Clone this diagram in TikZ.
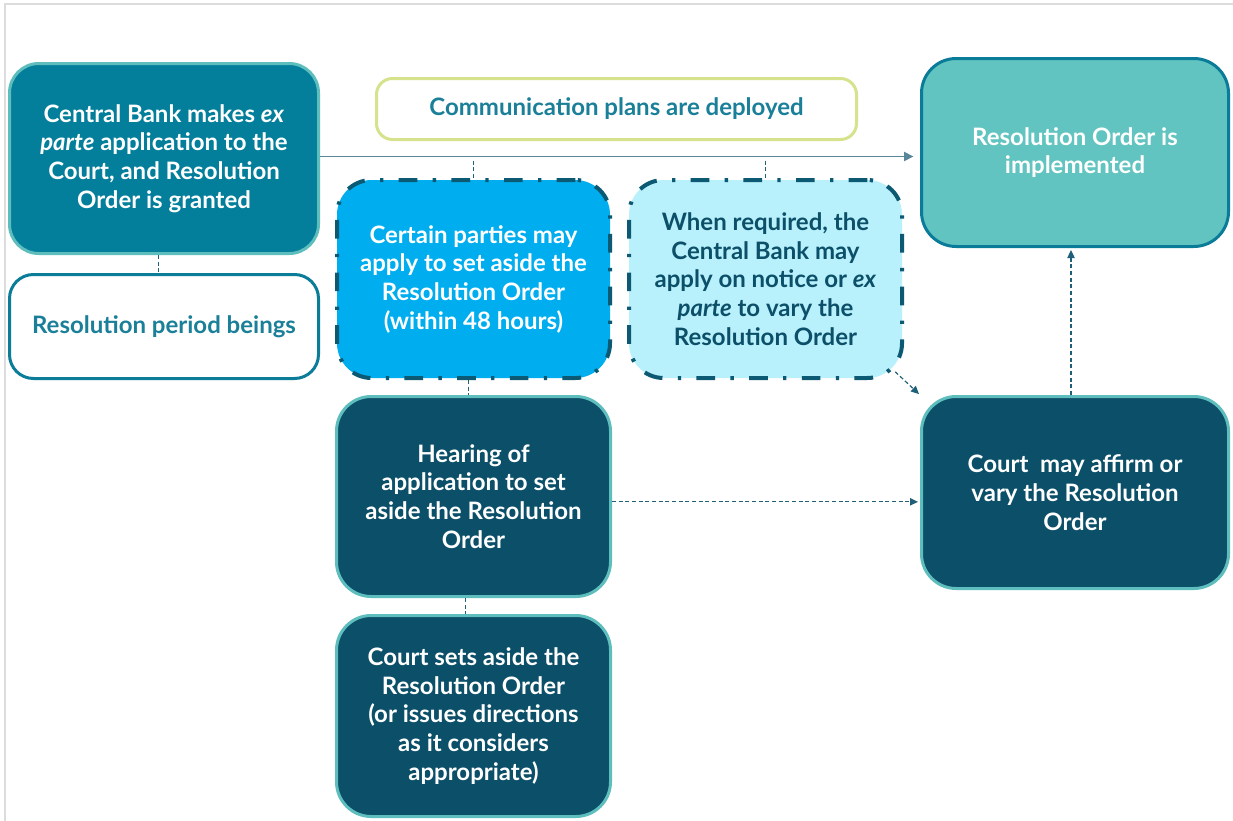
\documentclass[tikz,border=0pt]{standalone}
\usepackage{fontspec}
\setmainfont{Lato}
\usetikzlibrary{arrows.meta,calc}
\definecolor{cA}{HTML}{037E9B}
\definecolor{cAedge}{HTML}{5EBEBD}
\definecolor{cTeal}{HTML}{0B7D99}
\definecolor{cTealTxt}{HTML}{1A7F98}
\definecolor{cLime}{HTML}{D6E38C}
\definecolor{cBlue}{HTML}{00AEEF}
\definecolor{cPale}{HTML}{B8F0FB}
\definecolor{cDark}{HTML}{0B4F69}
\definecolor{cDashEdge}{HTML}{0C5973}
\definecolor{cImpl}{HTML}{61C4C0}
\definecolor{cImplEdge}{HTML}{0A7B98}
\definecolor{cArrow}{HTML}{5A8699}
\definecolor{cConn}{HTML}{1F5F77}
\definecolor{cFrame}{HTML}{DCDCDC}
\tikzset{
  boxbase/.style={rectangle, align=center, inner sep=0pt,
    font=\fontsize{18}{21.5}\selectfont\bfseries},
  solidbox/.style={boxbase, line width=2.25pt},
  dashbox/.style={boxbase, line width=3pt, draw=cDashEdge, rounded corners=26pt,
    dash pattern=on 14pt off 11.5pt on 2.5pt off 11.5pt,
    minimum width=204.75pt, minimum height=148.5pt},
  darkbox/.style={solidbox, fill=cDark, draw=cAedge, text=white, rounded corners=26pt},
  conn/.style={draw=cConn, line width=0.9pt, dash pattern=on 3pt off 2pt},
  connarrow/.style={conn, -{Triangle[length=6pt,width=5.5pt]}},
  mainarrow/.style={draw=cArrow, line width=1.1pt, -{Triangle[length=7pt,width=7pt]}}
}
\begin{document}
\begin{tikzpicture}[x=0.75pt,y=-0.75pt]
\useasboundingbox (0,0) rectangle (1233,821);
\fill[white] (0,0) rectangle (1233,821);
\draw[cFrame, line width=1.5pt] (5,821) -- (5,4) -- (1233,4);

% boxes
\node[solidbox, fill=cA, draw=cAedge, text=white, rounded corners=22pt,
  minimum width=231.75pt, minimum height=142.5pt] (A) at (164,158.5)
  {Central Bank makes \textit{ex}\\ \textit{parte} application to the\\ Court, and Resolution\\ Order is granted};
\node[solidbox, fill=white, draw=cTeal, text=cTealTxt, rounded corners=18pt,
  minimum width=231.75pt, minimum height=78pt] (B) at (164,326.5)
  {Resolution period beings};
\node[solidbox, fill=white, draw=cLime, text=cTealTxt, rounded corners=12pt,
  minimum width=360pt, minimum height=45.75pt] (C) at (616.5,109)
  {Communication plans are deployed};
\node[dashbox, fill=cBlue, text=white] (D) at (473.5,279)
  {Certain parties may\\ apply to set aside the\\ Resolution Order\\ (within 48 hours)};
\node[dashbox, fill=cPale, text=cDark] (E) at (765.5,279)
  {When required, the\\ Central Bank may\\ apply on notice or \textit{ex}\\ \textit{parte} to vary the\\ Resolution Order};
\node[solidbox, fill=cImpl, draw=cImplEdge, text=white, rounded corners=26pt,
  minimum width=230.25pt, minimum height=141pt] (F) at (1075,152.5)
  {Resolution Order is\\ implemented};
\node[darkbox, minimum width=205.5pt, minimum height=150pt] (G) at (473.5,496.5)
  {Hearing of\\ application to set\\ aside the Resolution\\ Order};
\node[darkbox, minimum width=205.5pt, minimum height=150.75pt] (H) at (473.5,716)
  {Court sets aside the\\ Resolution Order\\ (or issues directions\\ as it considers\\ appropriate)};
\node[darkbox, minimum width=230.25pt, minimum height=144pt] (I) at (1075,492.5)
  {Court\ \ may affirm or\\ vary the Resolution\\ Order};

% connectors
\coordinate (Aout) at ([yshift=1.5]A.east);
\draw[mainarrow, shorten >=5pt] (Aout) -- (Aout -| F.west);
\coordinate (dtap) at (Aout -| D.north);
\coordinate (etap) at (Aout -| E.north);
\draw[conn] ([yshift=-3]dtap) -- (D.north);
\draw[conn] ([yshift=-3]etap) -- (E.north);
\draw[conn] ([xshift=-4]A.south) -- ([xshift=-4]B.north);
\draw[conn] ([xshift=-4]D.south) -- ([xshift=-4]G.north);
\draw[conn] ([xshift=-6]G.south) -- ([xshift=-6]H.north);
\draw[connarrow, shorten <=-9pt, shorten >=1pt] (E.south east) -- (I.north west);
\draw[connarrow, shorten >=1.5pt] ([yshift=-4]G.east) -- ([yshift=-4]G.east -| I.west);
\draw[connarrow, shorten >=1.5pt] ([xshift=-3]I.north) -- ([xshift=-3]F.south);
\end{tikzpicture}
\end{document}
